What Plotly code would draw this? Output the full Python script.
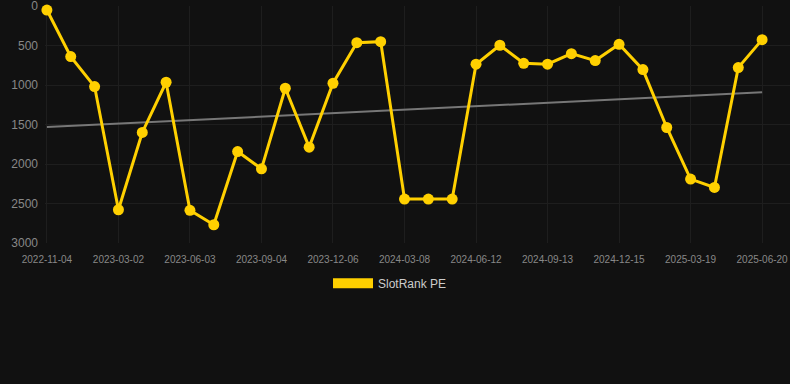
import numpy as np
import plotly.graph_objects as go

dates = [
    "2022-11-04", "2022-12-13", "2023-01-21", "2023-03-02", "2023-04-02",
    "2023-05-03", "2023-06-03", "2023-07-04", "2023-08-04", "2023-09-04",
    "2023-10-05", "2023-11-05", "2023-12-06", "2024-01-06", "2024-02-06",
    "2024-03-08", "2024-04-09", "2024-05-11", "2024-06-12", "2024-07-13",
    "2024-08-13", "2024-09-13", "2024-10-14", "2024-11-14", "2024-12-15",
    "2025-01-15", "2025-02-16", "2025-03-19", "2025-04-19", "2025-05-20",
    "2025-06-20",
]
rank = [
    51, 640, 1020, 2579, 1601, 965, 2587, 2769, 1842, 2061,
    1041, 1787, 978, 464, 451, 2444, 2444, 2444, 737, 497,
    725, 737, 603, 691, 485, 805, 1538, 2191, 2297, 780,
    426,
]
tick_labels = dates[::3]
y_ticks = [0, 500, 1000, 1500, 2000, 2500, 3000]

idx = np.arange(len(rank))
slope, intercept = np.polyfit(idx, rank, 1)
trend = slope * idx + intercept

GOLD = "#FFD000"
BG = "#111111"

fig = go.Figure()
fig.add_trace(go.Scatter(
    x=dates, y=trend, mode="lines",
    line=dict(color="#777777", width=2),
    showlegend=False, hoverinfo="skip",
))
fig.add_trace(go.Scatter(
    x=dates, y=rank, mode="lines+markers",
    line=dict(color=GOLD, width=3),
    marker=dict(color=GOLD, size=11),
    showlegend=False, cliponaxis=False,
))
fig.add_trace(go.Scatter(
    x=[None], y=[None], mode="lines",
    line=dict(color=GOLD, width=10),
    name="SlotRank PE", showlegend=True,
))

fig.update_layout(
    width=790, height=384,
    paper_bgcolor=BG, plot_bgcolor=BG,
    margin=dict(l=45, r=0, t=6, b=141),
    font=dict(family="Liberation Sans, Arial, sans-serif", color="#888888"),
    showlegend=True,
    legend=dict(
        orientation="h", x=0.4631, xanchor="center",
        y=-0.17, yanchor="middle",
        font=dict(size=12, color="#cccccc"), itemwidth=40,
        bgcolor="rgba(0,0,0,0)",
    ),
    xaxis=dict(
        type="category", range=[-0.08, 31.17],
        tickmode="array", tickvals=tick_labels, ticktext=tick_labels,
        tickangle=0,
        showgrid=True, gridcolor="#1e1e1e", gridwidth=1,
        zeroline=False, showline=False,
        tickfont=dict(size=10, color="#888888"),
        ticks="", ticklabelstandoff=9, ticklabeloverflow="allow",
    ),
    yaxis=dict(
        range=[3000, 0], tickvals=y_ticks,
        showgrid=True, gridcolor="#1e1e1e", gridwidth=1,
        zeroline=False, showline=False,
        tickfont=dict(size=12, color="#888888"),
        ticks="", ticklabelstandoff=6, ticklabeloverflow="allow",
    ),
)

fig.write_html(
    "out.html",
    config={"displayModeBar": False},
    post_script="document.body.style.margin='0';document.body.style.background='#111111';",
)
